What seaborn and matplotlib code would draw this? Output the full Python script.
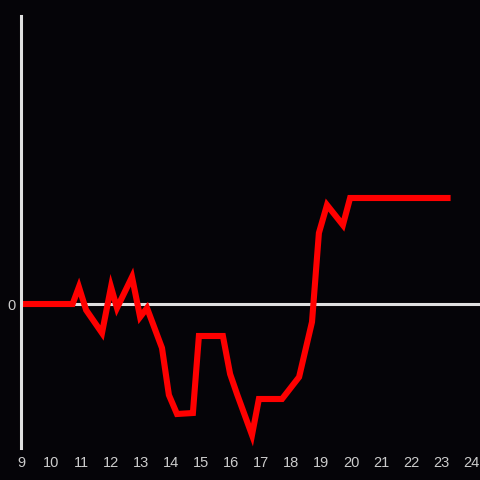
import numpy as np
import pandas as pd
import matplotlib
matplotlib.use("Agg")
import matplotlib.pyplot as plt
import seaborn as sns

# hour of day vs. value (zero-centred, arbitrary units)
hours = [9.0, 10.72, 10.93, 11.17, 11.7, 12.0, 12.2, 12.7, 12.97, 13.2,
         13.7, 13.93, 14.2, 14.73, 14.93, 15.73, 15.97, 16.2, 16.7, 16.93,
         17.7, 18.27, 18.7, 18.93, 19.2, 19.73, 19.97, 23.32]
values = [0, 0, 17, -6, -29, 17, -4, 27, -13, -4,
          -44, -91, -110, -109, -32, -32, -70, -90, -131, -95,
          -95, -73, -18, 71, 99, 79, 106, 106]
xticks = list(range(9, 25))

df = pd.DataFrame({"hour": hours, "value": values})

sns.set_style("dark")
plt.rcParams["font.family"] = ["Liberation Sans", "DejaVu Sans"]

bg = "#050408"
fg = "#e0e0e0"

fig = plt.figure(figsize=(4.8, 4.8), dpi=100, facecolor=bg)
ax = fig.add_axes([21 / 480, 1 - 448 / 480, 1 - 21 / 480, (448 - 16) / 480])
ax.set_facecolor(bg)

ax.axhline(0, color=fg, lw=2.2, zorder=1)
sns.lineplot(data=df, x="hour", y="value", ax=ax, color="#ff0000", lw=4.4,
             zorder=2, solid_capstyle="butt", solid_joinstyle="miter")

ax.set_xlim(9, 24.3)
ax.set_ylim(-144, 288)
ax.set_xticks(xticks)
ax.set_yticks([0])
ax.set_xlabel("")
ax.set_ylabel("")
ax.grid(False)

for s in ["top", "right", "bottom"]:
    ax.spines[s].set_visible(False)
ax.spines["left"].set_color(fg)
ax.spines["left"].set_linewidth(2.2)
ax.spines["left"].set_zorder(3)

ax.tick_params(axis="both", length=0, colors="#cccccc", labelsize=10.5)
ax.tick_params(axis="x", pad=6)
ax.tick_params(axis="y", pad=4)

fig.savefig("out.png", dpi=100, facecolor=bg)
